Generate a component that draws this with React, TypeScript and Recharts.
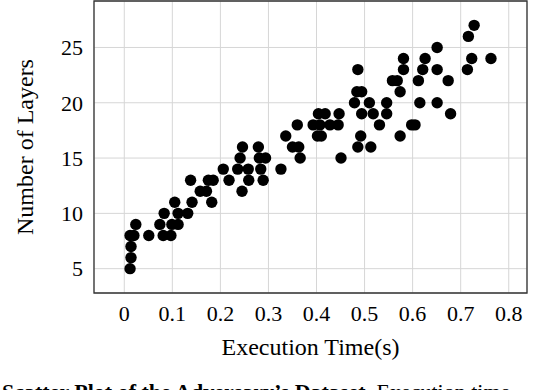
import React from "react";
import { ScatterChart, Scatter, XAxis, YAxis, CartesianGrid, ReferenceArea } from "recharts";

// execution time (s) and number of layers
const executionTime = [
  0.012, 0.014, 0.014,
  0.012, 0.02, 0.051, 0.081, 0.097,
  0.024, 0.074, 0.099, 0.112,
  0.083, 0.112, 0.132,
  0.105, 0.141, 0.182,
  0.158, 0.171, 0.245,
  0.138, 0.175, 0.185, 0.218, 0.259, 0.289,
  0.206, 0.236, 0.258, 0.284, 0.326,
  0.241, 0.281, 0.294, 0.366, 0.451,
  0.246, 0.279, 0.35, 0.363, 0.486, 0.513,
  0.336, 0.402, 0.41, 0.492, 0.574,
  0.36, 0.393, 0.407, 0.428, 0.445, 0.531, 0.598, 0.605,
  0.404, 0.418, 0.447, 0.494, 0.518, 0.546, 0.679,
  0.479, 0.51, 0.546, 0.615, 0.651,
  0.484, 0.494, 0.574,
  0.558, 0.568, 0.612, 0.674,
  0.486, 0.581, 0.621, 0.651, 0.714,
  0.581, 0.626, 0.723, 0.763,
  0.651,
  0.716,
  0.728,
];
const layers = [
  5, 6, 7,
  8, 8, 8, 8, 8,
  9, 9, 9, 9,
  10, 10, 10,
  11, 11, 11,
  12, 12, 12,
  13, 13, 13, 13, 13, 13,
  14, 14, 14, 14, 14,
  15, 15, 15, 15, 15,
  16, 16, 16, 16, 16, 16,
  17, 17, 17, 17, 17,
  18, 18, 18, 18, 18, 18, 18, 18,
  19, 19, 19, 19, 19, 19, 19,
  20, 20, 20, 20, 20,
  21, 21, 21,
  22, 22, 22, 22,
  23, 23, 23, 23, 23,
  24, 24, 24, 24,
  25,
  26,
  27,
];
const xTicks = [0, 0.1, 0.2, 0.3, 0.4, 0.5, 0.6, 0.7, 0.8];
const yTicks = [5, 10, 15, 20, 25];

const points = executionTime.map((t, i) => ({ time: t, layers: layers[i] }));

const FONT = "'Liberation Serif', 'Times New Roman', serif";
const X_DOMAIN: [number, number] = [-0.063, 0.838];
const Y_DOMAIN: [number, number] = [2.8, 29.2];
const FRAME = "#333";
const TICK = "#999";

const Dot = (props: any) => <circle cx={props.cx} cy={props.cy} r={5.7} fill="#000" />;

const XTitle = (props: any) => {
  const { x, y, width } = props.viewBox;
  return (
    <text x={x + width / 2} y={y + 62} textAnchor="middle" fontFamily={FONT} fontSize={24} fill="#000">
      Execution Time(s)
    </text>
  );
};

const YTitle = (props: any) => {
  const { x, y, height } = props.viewBox;
  const cx = x + 33;
  const cy = y + height / 2;
  return (
    <text x={cx} y={cy} transform={`rotate(-90, ${cx}, ${cy})`} textAnchor="middle"
      fontFamily={FONT} fontSize={24} fill="#000">
      Number of Layers
    </text>
  );
};

export default function App() {
  return (
    <div style={{ position: "absolute", left: 0, top: 0, width: 550, height: 390, background: "#fff", overflow: "hidden" }}>
      <ScatterChart width={550} height={390} margin={{ top: 1, right: 23, bottom: 0, left: 0 }}>
        <CartesianGrid xAxisId="main" yAxisId="main" stroke="#d6d6d6" strokeWidth={1} vertical horizontal />
        <XAxis xAxisId="main" dataKey="time" type="number" domain={X_DOMAIN} ticks={xTicks}
          allowDataOverflow height={97} tickLine={false} tickMargin={6} axisLine={false}
          tick={{ fontFamily: FONT, fontSize: 22, fill: "#000" }} label={XTitle} />
        <XAxis xAxisId="bottomIn" type="number" domain={X_DOMAIN} ticks={xTicks} allowDataOverflow
          mirror height={0} tick={false} axisLine={false} tickSize={4} tickLine={{ stroke: TICK }} />
        <XAxis xAxisId="topIn" orientation="top" type="number" domain={X_DOMAIN} ticks={xTicks} allowDataOverflow
          mirror height={0} tick={false} axisLine={false} tickSize={4} tickLine={{ stroke: TICK }} />
        <YAxis yAxisId="main" dataKey="layers" type="number" domain={Y_DOMAIN} ticks={yTicks}
          allowDataOverflow width={94} tickLine={false} tickMargin={5} axisLine={false}
          tick={{ fontFamily: FONT, fontSize: 22, fill: "#000" }} label={YTitle} />
        <YAxis yAxisId="leftIn" type="number" domain={Y_DOMAIN} ticks={yTicks} allowDataOverflow
          mirror width={0} tick={false} axisLine={false} tickSize={4} tickLine={{ stroke: TICK }} />
        <YAxis yAxisId="rightIn" orientation="right" type="number" domain={Y_DOMAIN} ticks={yTicks} allowDataOverflow
          mirror width={0} tick={false} axisLine={false} tickSize={4} tickLine={{ stroke: TICK }} />
        <ReferenceArea xAxisId="main" yAxisId="main" x1={X_DOMAIN[0]} x2={X_DOMAIN[1]} y1={Y_DOMAIN[0]} y2={Y_DOMAIN[1]}
          fill="none" fillOpacity={0} stroke={FRAME} strokeWidth={1.3} ifOverflow="visible" />
        <Scatter data={points} xAxisId="main" yAxisId="main" fill="#000" shape={Dot} isAnimationActive={false} />
      </ScatterChart>
      <div style={{ position: "absolute", left: 2, top: 381, whiteSpace: "nowrap", fontFamily: FONT, fontSize: 22, lineHeight: "22px", color: "#000" }}>
        <b>Scatter Plot of the Adversary’s Dataset.</b> Execution time
      </div>
    </div>
  );
}
